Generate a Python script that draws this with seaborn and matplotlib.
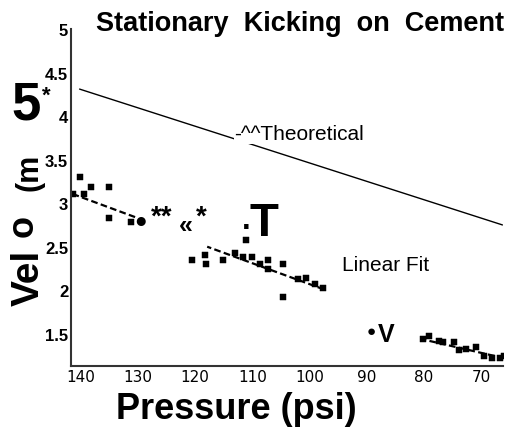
import matplotlib
matplotlib.use("Agg")
import matplotlib.pyplot as plt
import seaborn as sns
import pandas as pd

# measured kicks (pressure psi, velocity m/s)
pressure = [140.2, 141.4, 139.5, 138.2, 135.1, 135.1, 131.2,
            120.5, 118.2, 118.1, 115.1, 113.0, 111.6, 111.2, 110.0, 108.6,
            107.2, 107.2, 104.7, 104.7, 102.1, 100.7, 99.0, 97.7,
            80.2, 79.1, 77.4, 76.7, 74.7, 73.9, 72.6, 70.9, 69.5, 68.2, 66.8, 66.1]
velocity = [3.30, 3.11, 3.11, 3.19, 3.18, 2.83, 2.78,
            2.35, 2.41, 2.30, 2.35, 2.43, 2.38, 2.58, 2.38, 2.30,
            2.35, 2.24, 2.30, 1.92, 2.13, 2.14, 2.07, 2.03,
            1.44, 1.47, 1.42, 1.41, 1.41, 1.31, 1.33, 1.35, 1.24, 1.22, 1.22, 1.24]

# theoretical curve end points
theory_p = [140.2, 66.3]
theory_v = [4.31, 2.75]

# linear fit, drawn where data exist
fit_seg = [1, 1, 2, 2, 3, 3]
fit_p = [141.6, 130.5, 117.9, 97.5, 80.5, 66.0]
fit_v = [3.11, 2.84, 2.50, 2.01, 1.44, 1.22]

yticks = [1.5, 2, 2.5, 3, 3.5, 4, 4.5, 5]
ytick_labels = ["1.5", "2", "2.5", "3", "3.5", "4", "4.5", "5"]
xticks = [140, 130, 120, 110, 100, 90, 80, 70]

W, H = 519, 439


def fx(px):
    return px / W


def fy(py):
    return 1 - py / H


sns.set_style("white")
plt.rcParams['font.family'] = ['Liberation Sans', 'DejaVu Sans']
plt.rcParams['text.color'] = 'black'
plt.rcParams['xtick.color'] = 'black'
plt.rcParams['ytick.color'] = 'black'

fig = plt.figure(figsize=(5.19, 4.39), dpi=100)
ax = fig.add_axes([fx(71), fy(367), fx(503) - fx(71), fy(30) - fy(367)])

pts = pd.DataFrame({'p': pressure, 'v': velocity})
fit = pd.DataFrame({'p': fit_p, 'v': fit_v, 'seg': fit_seg})
theo = pd.DataFrame({'p': theory_p, 'v': theory_v})

sns.lineplot(data=theo, x='p', y='v', color='black', lw=1.0, ax=ax)
sns.lineplot(data=fit, x='p', y='v', units='seg', estimator=None, color='black',
             lw=1.6, ax=ax, linestyle=(0, (3, 1.5)))
sns.scatterplot(data=pts, x='p', y='v', color='black', marker='s', s=18,
                edgecolor='black', ax=ax)

ax.set_xlim(141.7, 66.2)
ax.set_ylim(1.13, 5.0)
ax.set_xticks(xticks)
ax.set_xticklabels([str(t) for t in xticks], family='DejaVu Sans', fontsize=11)
ax.set_yticks(yticks)
ax.set_yticklabels(ytick_labels, fontsize=12, fontweight='bold')
ax.tick_params(direction='in', length=4, width=1, pad=2)
ax.set_xlabel('')
ax.set_ylabel('')
for s in ['top', 'right']:
    ax.spines[s].set_visible(False)
for s in ['left', 'bottom']:
    ax.spines[s].set_color('#333333')
    ax.spines[s].set_linewidth(1.5)

# in-plot labels
fig.text(fx(234), fy(135), '-^^Theoretical', fontsize=15, va='center', ha='left',
         bbox=dict(facecolor='white', edgecolor='none', pad=0))
fig.text(fx(342), fy(266), 'Linear Fit', fontsize=15, va='center', ha='left')

# scanned marks left in the picture
fig.text(fx(141), fy(222), '\u25CF', fontsize=15, ha='center', va='center')
fig.text(fx(162), fy(218), '**', fontsize=20, fontweight='bold', ha='center', va='center')
fig.text(fx(186), fy(226), '\u00AB', fontsize=18, fontweight='bold', ha='center', va='center')
fig.text(fx(201), fy(218), '*', fontsize=20, fontweight='bold', ha='center', va='center')
fig.text(fx(246), fy(236), '.', fontsize=22, fontweight='bold', ha='center', va='bottom')
fig.text(fx(264), fy(224), 'T', fontsize=34, fontweight='bold', ha='center', va='center')
fig.text(fx(371), fy(332), '\u25CF', fontsize=11, ha='center', va='center')
fig.text(fx(386), fy(335), 'V', fontsize=18, fontweight='bold', ha='center', va='center')

# title and axis labels
fig.text(fx(300), fy(24), 'Stationary  Kicking  on  Cement', fontsize=19.5,
         fontweight='bold', ha='center', va='center')
fig.text(fx(236), fy(410), 'Pressure (psi)', fontsize=26, fontweight='bold',
         ha='center', va='center')
fig.text(fx(29), fy(278), 'Vel', fontsize=28, fontweight='bold', rotation=90,
         ha='center', va='center')
fig.text(fx(23), fy(226), 'o', fontsize=26, fontweight='bold', rotation=90,
         ha='center', va='center')
fig.text(fx(29), fy(172), '(m', fontsize=22, fontweight='bold', rotation=90,
         ha='center', va='center')
fig.text(fx(26), fy(106), '5', fontsize=38, fontweight='bold', ha='center', va='center')
fig.text(fx(46), fy(96), '*', fontsize=16, fontweight='bold', ha='center', va='center')

plt.savefig('out.png', dpi=100)
